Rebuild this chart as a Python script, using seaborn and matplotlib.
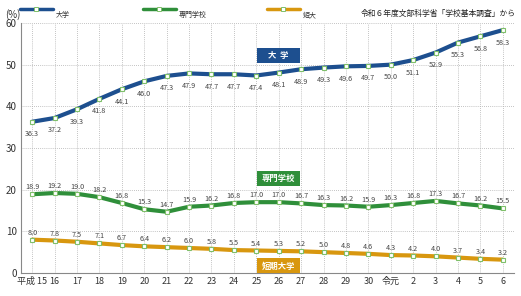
import matplotlib
matplotlib.use("Agg")
import matplotlib.pyplot as plt
import seaborn as sns
import pandas as pd
from matplotlib.lines import Line2D
from matplotlib.patches import Rectangle

years = ["15", "16", "17", "18", "19", "20", "21", "22", "23", "24", "25",
         "26", "27", "28", "29", "30", "令元", "2", "3", "4", "5", "6"]
univ = [36.3, 37.2, 39.3, 41.8, 44.1, 46.0, 47.3, 47.9, 47.7, 47.7, 47.4,
        48.1, 48.9, 49.3, 49.6, 49.7, 50.0, 51.1, 52.9, 55.3, 56.8, 58.3]
senmon = [18.9, 19.2, 19.0, 18.2, 16.8, 15.3, 14.7, 15.9, 16.2, 16.8, 17.0,
          17.0, 16.7, 16.3, 16.2, 15.9, 16.3, 16.8, 17.3, 16.7, 16.2, 15.5]
tandai = [8.0, 7.8, 7.5, 7.1, 6.7, 6.4, 6.2, 6.0, 5.8, 5.5, 5.4,
          5.3, 5.2, 5.0, 4.8, 4.6, 4.3, 4.2, 4.0, 3.7, 3.4, 3.2]
series_names = ["大学", "専門学校", "短大"]
box_names = ["大  学", "専門学校", "短期大学"]
yticks = [0, 10, 20, 30, 40, 50, 60]
era_prefix = "平成 "
source = "令和６年度文部科学省「学校基本調査」から"

sns.set_theme(style="white")
plt.rcParams['font.family'] = ['Noto Sans CJK JP', 'DejaVu Sans']

colors = ["#1d4f8f", "#2f8f3a", "#d8970f"]
fig = plt.figure(figsize=(5.21, 2.96), dpi=100)
ax = fig.add_axes([21/521, 23/296, (514-21)/521, (273-23)/296])

xs = list(range(len(years)))
data_all = [univ, senmon, tandai]
offsets = [-9, 5, 5]
for vals, c, off in zip(data_all, colors, offsets):
    df = pd.DataFrame({"x": xs, "y": vals})
    sns.lineplot(data=df, x="x", y="y", ax=ax, color=c, linewidth=3.0,
                 marker="s", markersize=3.2, markerfacecolor="white",
                 markeredgecolor="#7fbf6a", markeredgewidth=0.8, zorder=3)
    for x, v in zip(xs, vals):
        ax.annotate(f"{v:.1f}", (x, v), xytext=(0, off), textcoords="offset points",
                    ha="center", va="center", fontsize=5.2, color="#444444")

ax.set_xlim(-0.5, len(years) - 0.5)
ax.set_ylim(0, 60)
ax.set_xticks(xs)
labels = [era_prefix + years[0]] + years[1:]
ax.set_xticklabels(labels, fontsize=6.5, color="#333333")
ax.set_yticks(yticks)
ax.set_yticklabels([str(t) for t in yticks], fontsize=7, color="#333333")
ax.tick_params(axis="both", length=0, pad=3)
ax.set_xlabel("")
ax.set_ylabel("")
for x in xs:
    ax.axvline(x, color="#b0b0b0", linestyle=(0, (1, 1.5)), linewidth=0.6, zorder=1)
for y in yticks[1:]:
    ax.axhline(y, color="#b0b0b0", linestyle=(0, (1, 1.5)), linewidth=0.6, zorder=1)
for s in ["top", "right"]:
    ax.spines[s].set_visible(False)
for s in ["left", "bottom"]:
    ax.spines[s].set_color("#888888")
    ax.spines[s].set_linewidth(0.8)

# inline boxed labels
box_y = [52.1, 22.7, 1.7]
bw, bh = 1.92, 3.6
for name, c, by in zip(box_names, colors, box_y):
    ax.add_patch(Rectangle((11.0 - bw/2, by - bh/2), bw, bh, fc=c, ec="none", zorder=5))
    ax.text(11.0, by, name, ha="center", va="center", fontsize=6, color="white",
            fontweight="bold", zorder=6)

# legend at top
leg_x = [20, 143, 267]
for name, c, lx in zip(series_names, colors, leg_x):
    fig.add_artist(Line2D([lx/521, (lx+33)/521], [1 - 9/296, 1 - 9/296], color=c,
                          linewidth=2.5, transform=fig.transFigure))
    fig.add_artist(Line2D([(lx+16)/521], [1 - 9/296], marker="s", markersize=3,
                          markerfacecolor="white", markeredgecolor="#7fbf6a",
                          markeredgewidth=0.7, transform=fig.transFigure))
    fig.text((lx+36)/521, 1 - 15/296, name, fontsize=5, color="#333333",
             ha="left", va="center")

fig.text(5/521, 1 - 15/296, "(%)", fontsize=7, color="#333333", ha="left", va="center")
fig.text(516/521, 1 - 14/296, source, fontsize=5.6, color="#222222", ha="right", va="center")

fig.savefig("out.png", dpi=100)
